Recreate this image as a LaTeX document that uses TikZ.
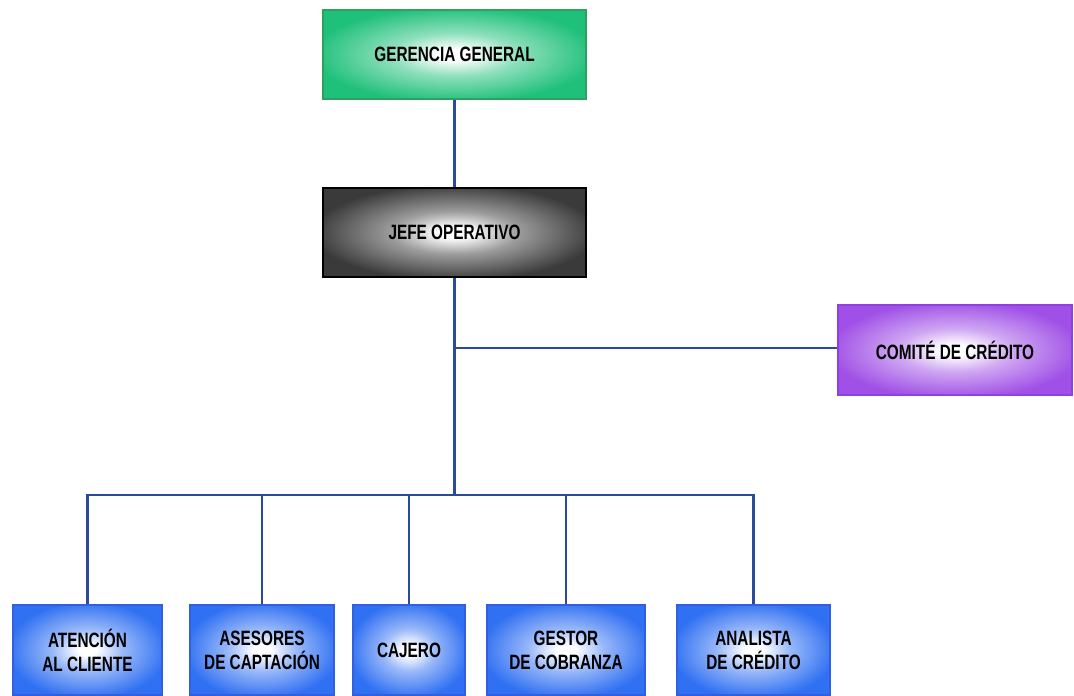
\documentclass[tikz,border=0pt]{standalone}
\usepackage{fontspec}
\setmainfont{Liberation Sans}
\newfontfamily\narrowfont[FakeStretch=0.74]{Liberation Sans}
\usetikzlibrary{positioning}

\definecolor{linea}{HTML}{2A4A9A}
\definecolor{verde}{HTML}{1FC07A}
\definecolor{verdeborde}{HTML}{2FA060}
\definecolor{gris}{HTML}{3A3A3A}
\definecolor{morado}{HTML}{A050E6}
\definecolor{moradoborde}{HTML}{9040E0}
\definecolor{azul}{HTML}{3070F2}
\definecolor{azulborde}{HTML}{3060E0}
\colorlet{brillo}{azul}

% resplandor radial: blanco al centro, color pleno hacia el borde
\pgfdeclareradialshading[brillo]{resplandor}{\pgfpoint{0bp}{0bp}}{%
  color(0bp)=(white); color(3bp)=(white);
  color(12bp)=(brillo!50!white); color(27bp)=(brillo); color(70bp)=(brillo)}

\begin{document}
\begin{tikzpicture}[
  every node/.style={font=\narrowfont\bfseries\fontsize{11.8}{13.6}\selectfont},
  cargo/.style={rectangle,draw=#1,line width=1pt,inner sep=0pt,align=center,minimum height=1.78cm,shading=resplandor},
  gerencia/.style={/utils/exec={\colorlet{brillo}{verde}},cargo=verdeborde,minimum width=5.26cm},
  jefe/.style={/utils/exec={\colorlet{brillo}{gris}},cargo=black,minimum width=5.26cm},
  comite/.style={/utils/exec={\colorlet{brillo}{morado}},cargo=moradoborde,minimum width=4.68cm,minimum height=1.80cm},
  puesto/.style={/utils/exec={\colorlet{brillo}{azul}},cargo=azulborde,minimum width=#1,minimum height=1.80cm},
  enlace/.style={draw=linea,line width=1.5pt},
]
\useasboundingbox (0,0) rectangle (21.48,-13.9);

\node (gerencia) [gerencia] at (9.09,-1.09) {GERENCIA GENERAL};
\node (jefe) [jefe] at (9.09,-4.65) {JEFE OPERATIVO};
\node (comite) [comite] at (19.10,-7.00) {COMITÉ DE CRÉDITO};

\node (atencion) [puesto=2.98cm] at (1.75,-13.0) {ATENCIÓN\\AL CLIENTE};
\node (asesores) [puesto=2.88cm] at (5.24,-13.0) {ASESORES\\DE CAPTACIÓN};
\node (cajero) [puesto=2.24cm] at (8.18,-13.0) {CAJERO};
\node (gestor) [puesto=3.16cm] at (11.32,-13.0) {GESTOR\\DE COBRANZA};
\node (analista) [puesto=3.06cm] at (15.07,-13.0) {ANALISTA\\DE CRÉDITO};

\coordinate (rama) at (jefe.south |- 0,-6.96);
\coordinate (bus) at (jefe.south |- 0,-9.90);

\draw [enlace] (gerencia) -- (jefe);
\draw [enlace] (jefe) -- (bus);
\draw [enlace] (rama) -- (rama -| comite.west);
\foreach \p in {atencion,asesores,cajero,gestor,analista}
  \draw [enlace] (bus) -| (\p);
\end{tikzpicture}
\end{document}
